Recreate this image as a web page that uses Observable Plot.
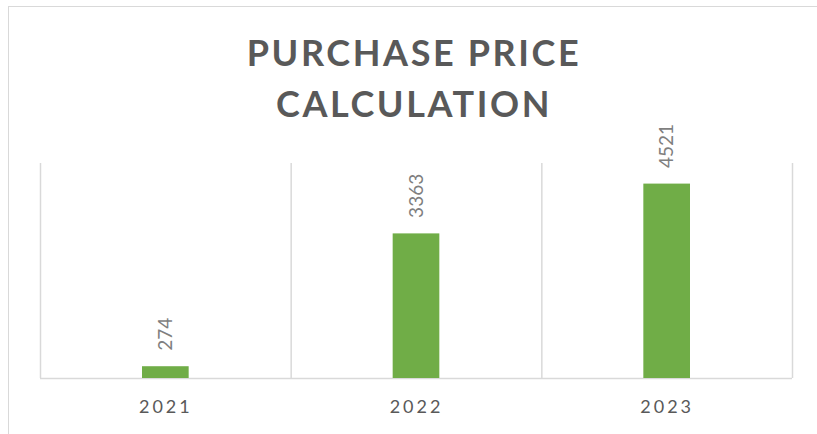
<!DOCTYPE html>
<html><head><meta charset="utf-8">
<script src="https://cdn.jsdelivr.net/npm/d3@7"></script>
<script src="https://cdn.jsdelivr.net/npm/@observablehq/plot@0.6"></script>
<style>
body{margin:0;background:#fff;width:817px;height:434px;overflow:hidden;position:relative;font-family:Lato,sans-serif}
#frame{position:absolute;left:8px;top:6px;width:900px;height:500px;border-top:1.5px solid #d9d9d9;border-left:1.5px solid #d9d9d9}
#chart{position:absolute;left:0;top:0}
#title{position:absolute;left:0;top:27px;width:828px;text-align:center;font:bold 36px/51px Lato;letter-spacing:2.6px;color:#595959;z-index:2}
</style></head><body>
<div id="frame"></div>
<div id="chart"></div>
<div id="title">PURCHASE PRICE<br>CALCULATION</div>
<script>
const years = ["2021", "2022", "2023"];
const values = [274, 3363, 4521];
const yDomain = [0, 5000];

const data = years.map((y, i) => ({year: y, value: values[i], i}));
const boundaries = d3.range(years.length + 1);

const chart = Plot.plot({
  width: 817, height: 434,
  marginLeft: 40, marginRight: 25, marginTop: 163, marginBottom: 56,
  style: {fontFamily: "Lato, sans-serif", background: "transparent"},
  x: {domain: [0, years.length], axis: null},
  y: {domain: yDomain, axis: null},
  marks: [
    Plot.ruleX(boundaries, {stroke: "#d9d9d9", strokeWidth: 1.5}),
    Plot.ruleY([0], {stroke: "#d9d9d9", strokeWidth: 1.5}),
    Plot.rectY(data, {x1: d => d.i, x2: d => d.i + 1, y: "value", fill: "#70AD47", insetLeft: 102, insetRight: 102}),
    Plot.text(data, {x: d => d.i + 0.5, y: "value", text: d => String(d.value), rotate: -90, textAnchor: "start", dy: -16, fontSize: 19, fill: "#7f7f7f"}),
    Plot.text(data, {x: d => d.i + 0.5, y: 0, text: "year", dy: 29, fontSize: 18, fill: "#595959"})
  ]
});
const texts = chart.querySelectorAll('g[aria-label="text"]');
texts[texts.length - 1].style.letterSpacing = "3px";
document.getElementById("chart").appendChild(chart);
</script>
</body></html>
